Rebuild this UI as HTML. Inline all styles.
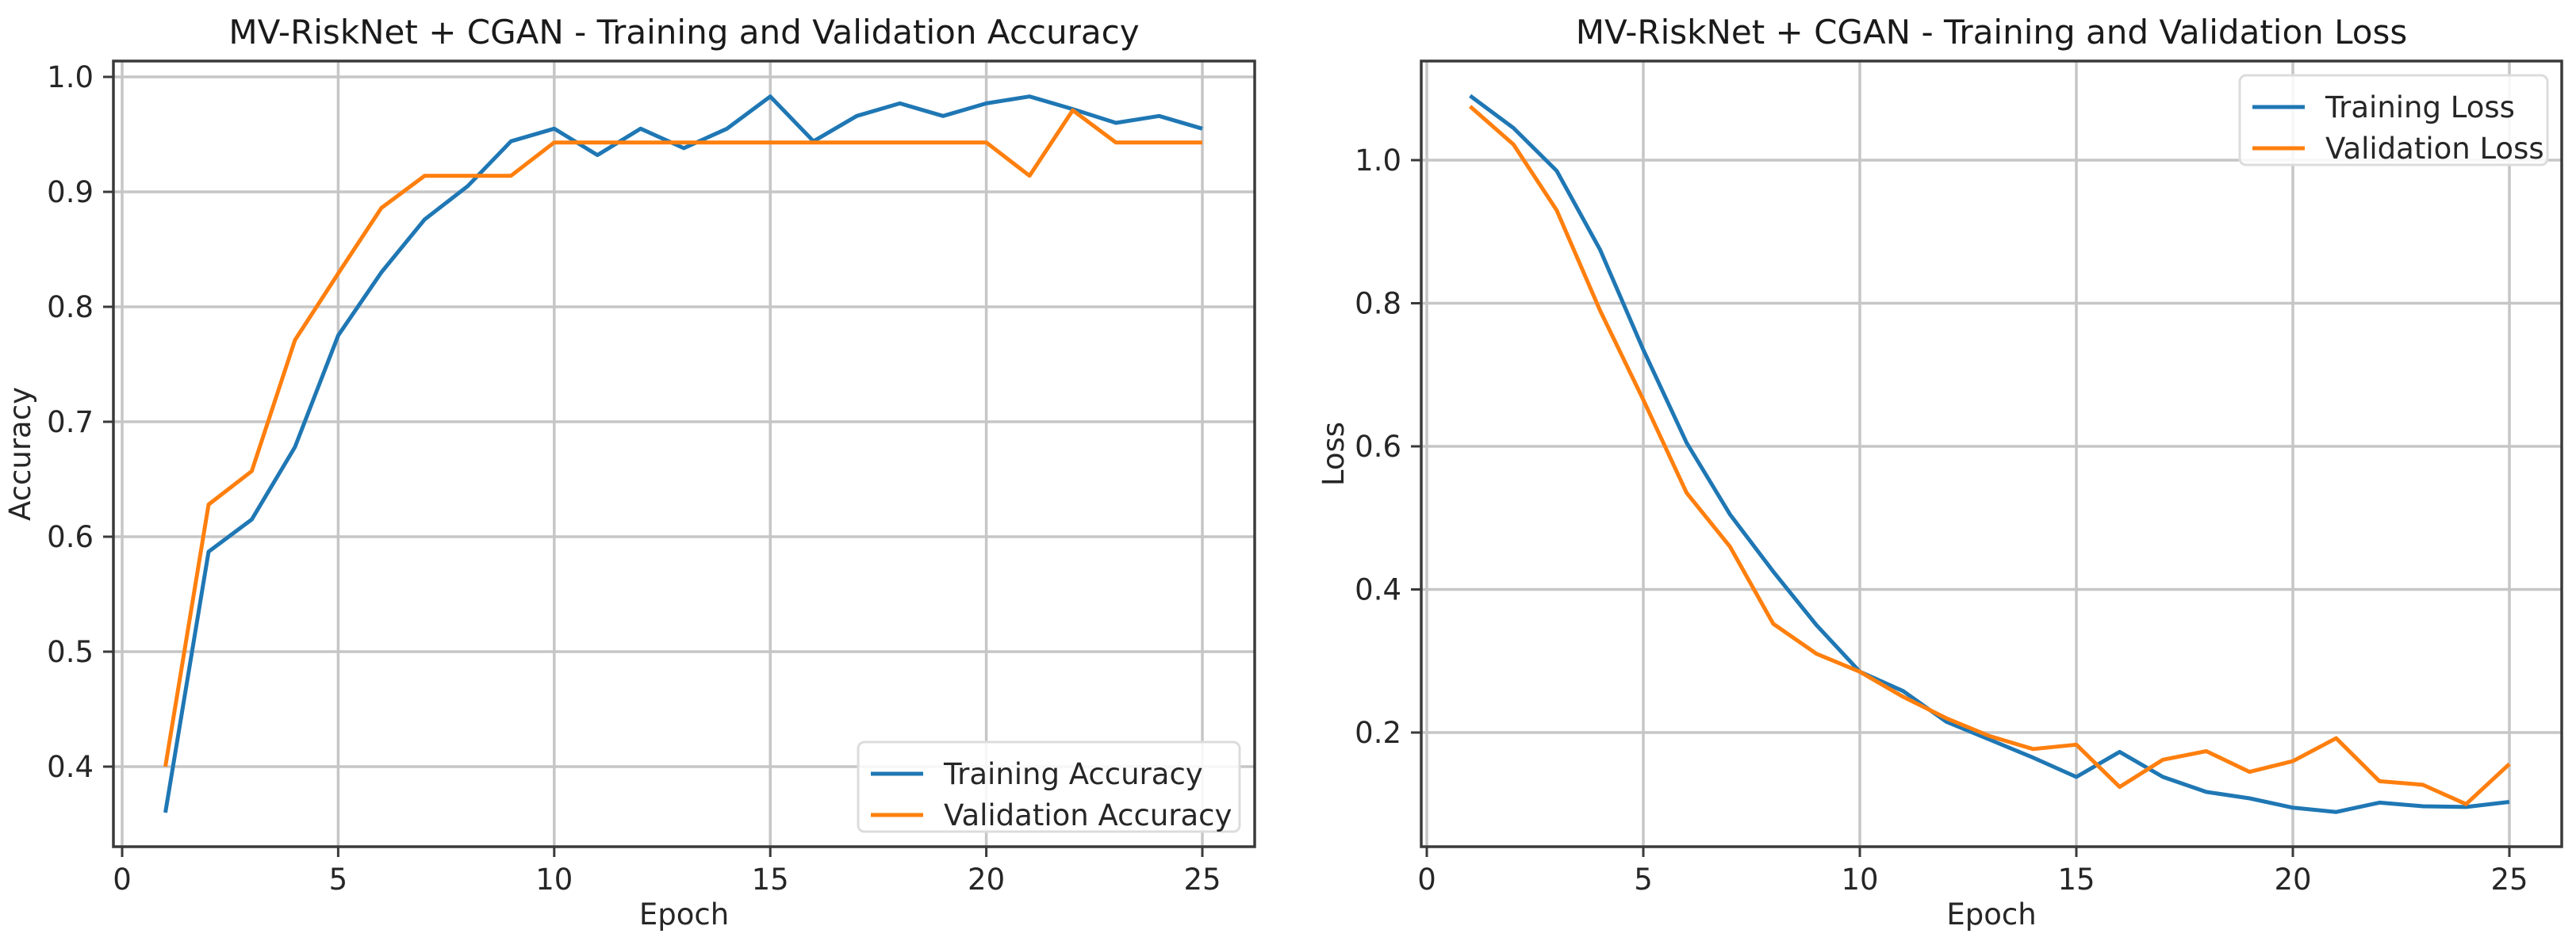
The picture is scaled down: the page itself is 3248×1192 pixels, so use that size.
<!DOCTYPE html>
<html><head><meta charset="utf-8"><style>
html,body{margin:0;padding:0;background:#fff;}
svg{display:block;font-family:"DejaVu Sans","Liberation Sans",sans-serif;}
</style></head><body>
<svg id="fig" width="3248" height="1192" viewBox="0 0 3248 1192"></svg>
<script>
const epochs = [1,2,3,4,5,6,7,8,9,10,11,12,13,14,15,16,17,18,19,20,21,22,23,24,25];
const trainAcc = [0.36,0.587,0.615,0.678,0.775,0.83,0.876,0.905,0.944,0.955,0.932,0.955,0.938,0.955,0.983,0.944,0.966,0.977,0.966,0.977,0.983,0.972,0.960,0.966,0.955];
const valAcc = [0.40,0.628,0.657,0.771,0.829,0.886,0.914,0.914,0.914,0.943,0.943,0.943,0.943,0.943,0.943,0.943,0.943,0.943,0.943,0.943,0.914,0.971,0.943,0.943,0.943];
const trainLoss = [1.09,1.045,0.985,0.875,0.735,0.605,0.505,0.425,0.35,0.285,0.258,0.215,0.19,0.165,0.138,0.173,0.138,0.117,0.108,0.095,0.089,0.102,0.097,0.096,0.103];
const valLoss = [1.075,1.022,0.93,0.79,0.665,0.535,0.46,0.352,0.31,0.285,0.25,0.22,0.195,0.177,0.183,0.124,0.162,0.174,0.145,0.16,0.192,0.132,0.127,0.1,0.156];
const xTicks = [0,5,10,15,20,25];
const accTicks = [0.4,0.5,0.6,0.7,0.8,0.9,1.0];
const lossTicks = [0.2,0.4,0.6,0.8,1.0];

const NS = "http://www.w3.org/2000/svg";
const svg = document.getElementById('fig');
function mk(tag, attrs, parent, text){
  const e = document.createElementNS(NS, tag);
  for (const k in attrs) e.setAttribute(k, attrs[k]);
  if (text !== undefined) e.textContent = text;
  (parent||svg).appendChild(e);
  return e;
}
const BLUE = "#1f77b4", ORANGE = "#ff7f0e";

function panel(cfg){
  const g = mk('g', {});
  
  
  const L=cfg.left,R=cfg.right,T=cfg.top,B=cfg.bottom;
  const xs = v => cfg.x0 + v*cfg.xk;
  const ys = v => cfg.y1 + (cfg.v1 - v)*cfg.yk;
  xTicks.forEach(t=>{
    const l = mk('line',{x1:xs(t),x2:xs(t),y1:T,y2:B,stroke:"#c6c6c6","stroke-width":3.5},g);
    
    
  });
  cfg.yTicks.forEach(t=>{
    const l = mk('line',{x1:L,x2:R,y1:ys(t),y2:ys(t),stroke:"#c6c6c6","stroke-width":3.5},g);
    
    
  });
  cfg.series.forEach(s=>{
    const pts = epochs.map((e,i)=>xs(e).toFixed(1)+","+ys(s.data[i]).toFixed(1)).join(" ");
    const p = mk('polyline',{points:pts,fill:"none",stroke:s.color,"stroke-width":5,"stroke-linejoin":"round"},g);
    
    
  });
  const fr = mk('rect',{x:L,y:T,width:R-L,height:B-T,fill:"none",stroke:"#3a3a3a","stroke-width":3.5},g);
  
  
  xTicks.forEach(t=>{
    mk('line',{x1:xs(t),x2:xs(t),y1:B,y2:B+13,stroke:"#3a3a3a","stroke-width":3},g);
    const tx = mk('text',{x:xs(t),y:1122,"text-anchor":"middle","font-size":37,fill:"#262626"},g,String(t));
    
    
  });
  cfg.yTicks.forEach(t=>{
    mk('line',{x1:L-13,x2:L,y1:ys(t),y2:ys(t),stroke:"#3a3a3a","stroke-width":3},g);
    const tx = mk('text',{x:L-25,y:ys(t)+13,"text-anchor":"end","font-size":37,fill:"#262626"},g,t.toFixed(1));
    
    
  });
  const ti = mk('text',{x:(L+R)/2,y:55,"text-anchor":"middle","font-size":42,fill:"#1a1a1a"},g,cfg.title);
  
  
  const xl = mk('text',{x:(L+R)/2,y:1166,"text-anchor":"middle","font-size":37,fill:"#262626"},g,"Epoch");
  
  
  const yl = mk('text',{x:cfg.ylx,y:(T+B)/2,"text-anchor":"middle","font-size":37,fill:"#262626",transform:`rotate(-90 ${cfg.ylx} ${(T+B)/2})`},g,cfg.ylabel);
  
  
  const lg = mk('g',{},g);
  
  
  const lb = cfg.legend;
  mk('rect',{x:lb.x,y:lb.y,width:lb.w,height:113,rx:8,fill:"rgba(255,255,255,0.85)",stroke:"#dcdcdc","stroke-width":3},lg);
  cfg.series.forEach((s,i)=>{
    const yy = lb.y+40+i*52;
    const ent = mk('g',{},lg);
    
    
    mk('line',{x1:lb.x+16,x2:lb.x+82,y1:yy,y2:yy,stroke:s.color,"stroke-width":5},ent);
    mk('text',{x:lb.x+108,y:yy+13,"font-size":37,fill:"#262626"},ent,s.label);
  });
}
panel({name:'accuracy-chart',left:143,right:1582,top:77,bottom:1068,x0:154,xk:54.48,y1:97,v1:1.0,yk:1450,
  yTicks:accTicks,title:"MV-RiskNet + CGAN - Training and Validation Accuracy",ylabel:"Accuracy",ylx:38,
  legend:{x:1082,y:936,w:481},
  series:[{id:'training-accuracy-line',data:trainAcc,color:BLUE,label:"Training Accuracy"},
          {id:'validation-accuracy-line',data:valAcc,color:ORANGE,label:"Validation Accuracy"}]});
panel({name:'loss-chart',left:1792,right:3230,top:77,bottom:1068,x0:1799,xk:54.6,y1:202,v1:1.0,yk:902.5,
  yTicks:lossTicks,title:"MV-RiskNet + CGAN - Training and Validation Loss",ylabel:"Loss",ylx:1694,
  legend:{x:2824,y:95,w:388},
  series:[{id:'training-loss-line',data:trainLoss,color:BLUE,label:"Training Loss"},
          {id:'validation-loss-line',data:valLoss,color:ORANGE,label:"Validation Loss"}]});
</script>
</body></html>
